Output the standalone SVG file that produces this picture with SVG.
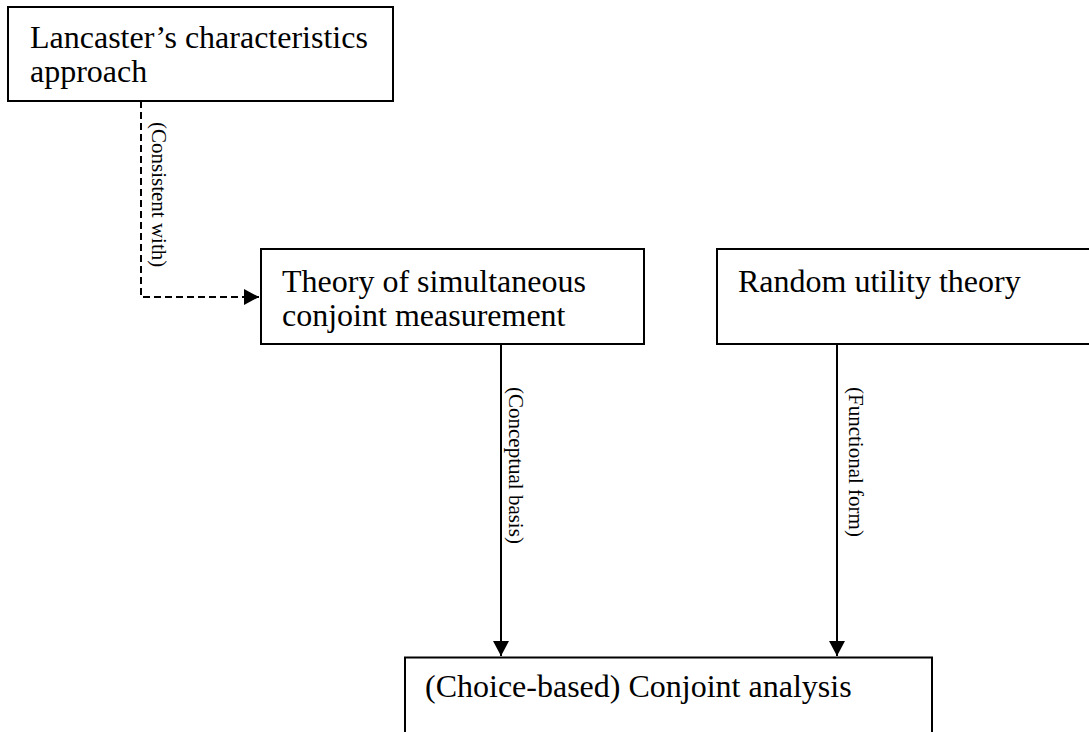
<svg xmlns="http://www.w3.org/2000/svg" width="1089" height="732" viewBox="0 0 1089 732">
  <style>
    .box { fill: #ffffff; stroke: #000000; stroke-width: 2; }
    .t { font-family: "Liberation Serif", "Times New Roman", serif; font-size: 32px; fill: #000000; }
    .lbl { font-family: "Liberation Serif", "Times New Roman", serif; font-size: 21px; fill: #000000; }
    .conn { fill: none; stroke: #000000; stroke-width: 2; }
    .dash { stroke-dasharray: 7 4; }
  </style>
  <defs>
    <marker id="arrow" markerUnits="userSpaceOnUse" markerWidth="17" markerHeight="18" refX="15" refY="8" orient="auto">
      <path d="M0,0 L15,8 L0,16 Z" fill="#000000"/>
    </marker>
  </defs>
  <rect width="1089" height="732" fill="#ffffff"/>

  <g id="connectors">
    <path class="conn dash" d="M141,101 L141,297 L259,297" marker-end="url(#arrow)"/>
    <path class="conn" d="M501,344 L501,656" marker-end="url(#arrow)"/>
    <path class="conn" d="M837,344 L837,656" marker-end="url(#arrow)"/>
    <text class="lbl" transform="translate(152,122) rotate(90)">(Consistent with)</text>
    <text class="lbl" transform="translate(509,387) rotate(90)">(Conceptual basis)</text>
    <text class="lbl" transform="translate(849,387) rotate(90)">(Functional form)</text>
  </g>

  <g id="lancaster">
    <rect class="box" x="8" y="7" width="385" height="94"/>
    <text class="t" x="30" y="48">Lancaster’s characteristics</text>
    <text class="t" x="30" y="82">approach</text>
  </g>

  <g id="simultaneous">
    <rect class="box" x="261" y="249" width="383" height="95"/>
    <text class="t" x="282" y="292">Theory of simultaneous</text>
    <text class="t" x="282" y="326">conjoint measurement</text>
  </g>

  <g id="random-utility">
    <rect class="box" x="717" y="249" width="400" height="95"/>
    <text class="t" x="738" y="292">Random utility theory</text>
  </g>

  <g id="conjoint-analysis">
    <rect class="box" x="405" y="657.5" width="527" height="100"/>
    <text class="t" x="425" y="697">(Choice-based) Conjoint analysis</text>
  </g>
</svg>
